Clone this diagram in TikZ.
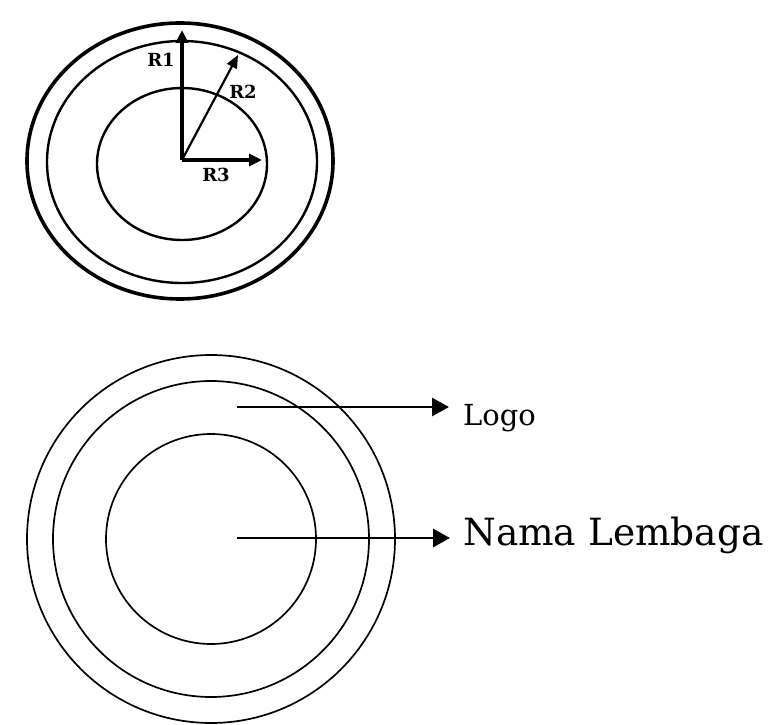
\documentclass[tikz,border=0pt]{standalone}
\usepackage{fontspec}
\setmainfont{DejaVu Serif}
\usetikzlibrary{arrows.meta,positioning}
\tikzset{
  ring/.style        = {line width=1.7pt},
  sketchring/.style  = {line width=2.4pt},
  thickring/.style   = {line width=3.6pt},
  radius arrow/.style= {-{Triangle[length=13pt,width=12pt]}, line width=3.4pt},
  thin radius/.style = {-{Triangle[length=13pt,width=11pt]}, line width=2.2pt},
  pointer/.style     = {-{Triangle[length=17pt,width=18pt]}, line width=2.8pt},
  rlabel/.style      = {font=\fontsize{18}{18}\selectfont\bfseries, inner sep=0pt},
  caption/.style     = {anchor=base west, inner sep=0pt},
}

\begin{document}
\begin{tikzpicture}[x=1pt,y=-1pt]
  \useasboundingbox (0,0) rectangle (769,725);
  % upper sketch: the rings with their radii
  \coordinate (c) at (182,160);
  \draw[thickring]  (180,161) ellipse [x radius=153, y radius=138];
  \draw[sketchring] (182,162) ellipse [x radius=135, y radius=121];
  \draw[sketchring] (182,164) ellipse [x radius=85, y radius=76];
  \coordinate (r1 tip) at (182,30);
  \coordinate (r2 tip) at (238,55);
  \coordinate (r3 tip) at (262,160);
  \draw[radius arrow] (c) -- (r1 tip);
  \draw[thin radius]  (c) -- (r2 tip);
  \draw[radius arrow] (c) -- (r3 tip);
  \node[rlabel] (r1) at (161,60)  {R1};
  \node[rlabel] (r2) at (243,92)  {R2};
  \node[rlabel] (r3) at (216,175) {R3};

  % lower sketch: the layout of the stamp
  \coordinate (o) at (211,539);
  \draw[ring] (o) circle [radius=184];
  \draw[ring] (o) circle [radius=158];
  \draw[ring] (o) circle [radius=105];
  \coordinate (logo from) at (237,407);
  \coordinate (logo tip)  at (449,407);
  \coordinate (nama from) at (237,538);
  \coordinate (nama tip)  at (450,538);
  \draw[pointer] (logo from) -- (logo tip);
  \draw[pointer] (nama from) -- (nama tip);
  \node[caption, font=\fontsize{29}{29}\selectfont] (logo) at (463,425) {Logo};
  \node[caption, font=\fontsize{37.5}{37.5}\selectfont] (nama) at (463,545) {Nama Lembaga};
\end{tikzpicture}
\end{document}
